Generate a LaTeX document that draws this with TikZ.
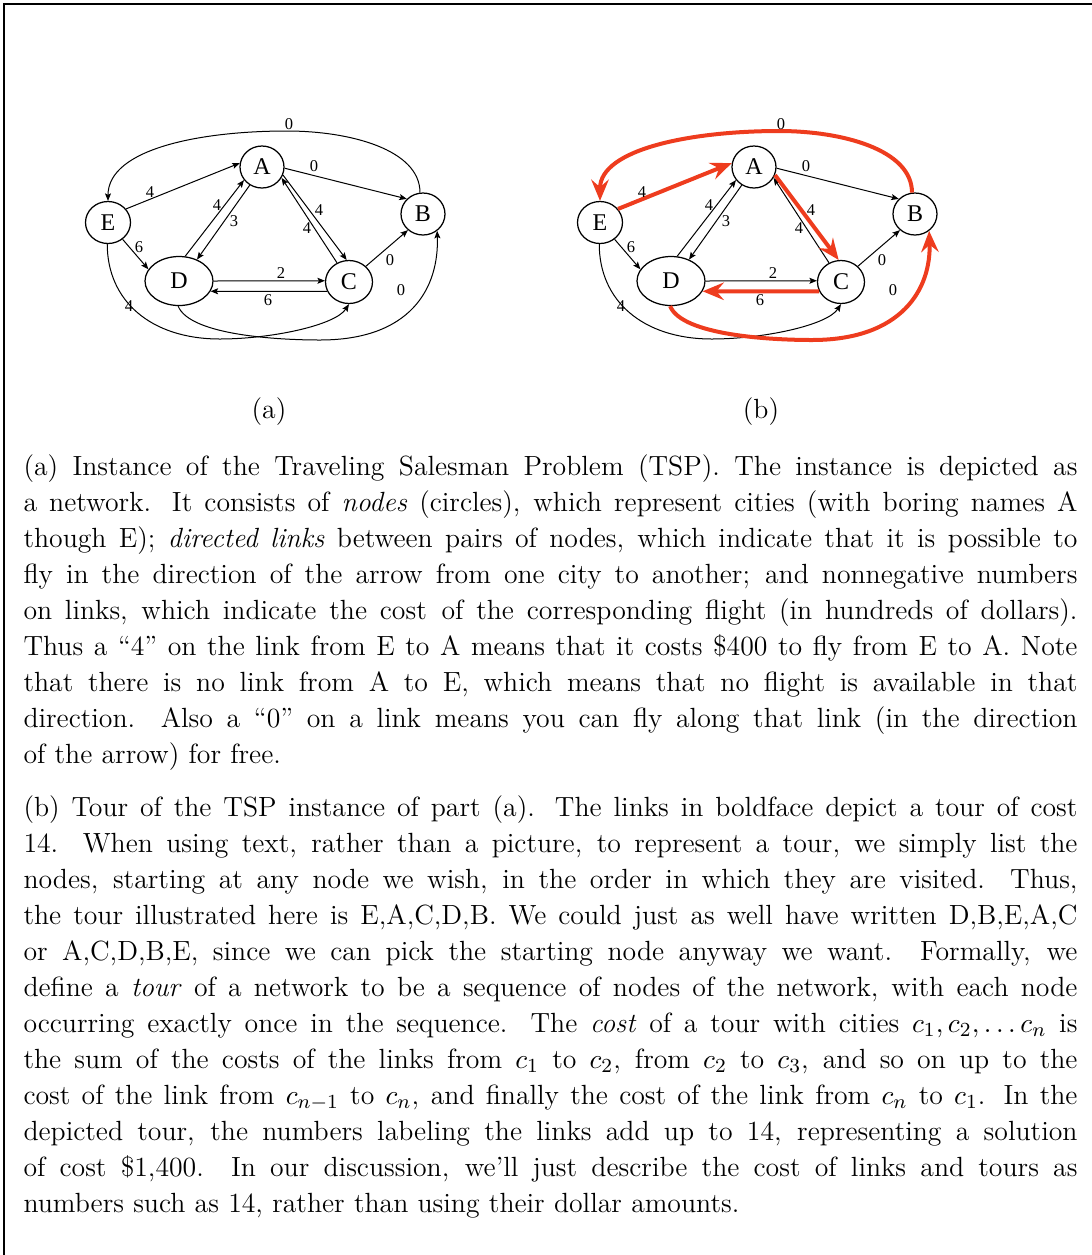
\documentclass[tikz,border=0pt]{standalone}
\usepackage{fontspec}
\newfontfamily\dfont{Liberation Serif}
\usetikzlibrary{arrows.meta,shapes.geometric}
\definecolor{tourred}{RGB}{238,60,30}
\newcommand{\parafont}{\fontsize{11.1}{14.4}\selectfont\spaceskip=.3333em plus .1667em minus .16em\relax}
\tikzset{
  city/.style={draw, ellipse, line width=0.5pt, inner sep=0pt, font=\dfont\fontsize{9.6}{10}\selectfont},
  lnk/.style={draw, line width=0.4pt, -{Stealth[length=3pt,width=2.4pt,inset=0.6pt]}},
  tour/.style={draw=tourred, line width=1.6pt, -{Stealth[length=8.5pt,width=7pt,inset=3pt]}},
  cost/.style={font=\dfont\fontsize{6.6}{7}\selectfont, inner sep=0pt},
  sub/.style={font=\fontsize{11.1}{13}\selectfont, inner sep=0pt},
  para/.style={anchor=north west, inner sep=0pt, text width=421.6pt, align=justify, font=\parafont},
}
\newcommand{\tspgraph}[2]{%
  \node[city, minimum width=17.6pt, minimum height=16.8pt] (#1A) at (262,167) {A};
  \node[city, minimum width=17.6pt, minimum height=16.8pt] (#1B) at (423,214) {B};
  \node[city, minimum width=18pt, minimum height=16.8pt] (#1E) at (108,222.5) {E};
  \node[city, minimum width=27.2pt, minimum height=19.6pt] (#1D) at (179,281) {D};
  \node[city, minimum width=18.8pt, minimum height=17.2pt] (#1C) at (349,282) {C};
  \coordinate (#1top) at (287,131);
  \coordinate (#1ec) at (220,339);
  \coordinate (#1db) at (320,340);
  % links not in the tour
  \draw[lnk] (#1A.-3) -- (#1B.137);
  \draw[lnk] (#1D.76) -- (#1A.216);
  \draw[lnk] (#1A.236) -- (#1D.50);
  \draw[lnk] (#1C.122) -- (#1A.-29);
  \draw[lnk] (#1C.43) -- (#1B.227);
  \draw[lnk] (#1D.0) -- (#1C.177);
  \draw[lnk] (#1E.-49) -- (#1D.159);
  \draw[lnk] (#1E.268) .. controls +(0,56) and +(-70,0) .. (#1ec)
                       .. controls +(50,0) and +(-14,21.5) .. (#1C.270);
  % links of the tour
  \draw[#2] (#1B.98) .. controls +(0,-43) and +(63,0) .. (#1top)
                     .. controls +(-87,0) and +(0,-52) .. (#1E.90);
  \draw[#2] (#1E.37) -- (#1A.170);
  \draw[#2] (#1A.-21) -- (#1C.96);
  \draw[#2] (#1C.203) -- (#1D.-18);
  \draw[#2] (#1D.268) .. controls +(12,29.5) and +(-40,0) .. (#1db)
                      .. controls +(90,0) and +(2,58) .. (#1B.-50);
  % costs
  \node[cost] (#1l1) at (289,124) {0};
  \node[cost] (#1l2) at (150,192) {4};
  \node[cost] (#1l3) at (314,166) {0};
  \node[cost] (#1l4) at (217,205) {4};
  \node[cost] (#1l5) at (234,221) {3};
  \node[cost] (#1l6) at (319,210) {4};
  \node[cost] (#1l7) at (307,228) {4};
  \node[cost] (#1l8) at (390,260) {0};
  \node[cost] (#1l9) at (281,273) {2};
  \node[cost] (#1l10) at (268,300) {6};
  \node[cost] (#1l11) at (139,247) {6};
  \node[cost] (#1l12) at (129,306) {4};
  \node[cost] (#1l13) at (401,290) {0};
}
\begin{document}
\begin{tikzpicture}[x=0.4pt,y=-0.4pt]
\useasboundingbox (0,0) rectangle (1092,1255);
\draw[line width=0.8pt] (3.7,1255) -- (3.7,3.7) -- (1092,3.7);

\begin{scope}
  \tspgraph{a}{lnk}
\end{scope}
\begin{scope}[shift={(492,0)}]
  \tspgraph{b}{tour}
\end{scope}

\node[sub] (capa) at (269,411.5) {(a)};
\node[sub] (capb) at (761,411.5) {(b)};

\node[para] (p1) at (23,450) {\noindent\strut (a) Instance of the Traveling Salesman Problem (TSP). The instance is depicted as\linebreak
a network. It consists of \emph{nodes} (circles), which represent cities (with boring names A\linebreak
though E); \emph{directed links} between pairs of nodes, which indicate that it is possible to\linebreak
fly in the direction of the arrow from one city to another; and nonnegative numbers\linebreak
on links, which indicate the cost\kern0.8pt{} of the corresponding flight (in hundreds of dollars).\linebreak
Thus a ``4'' on the link from E to A means that it costs \$400 to fly from E to A. Note\linebreak
that there is no link from A to E, which means that no flight is available in that\linebreak
direction. Also a ``0'' on a link means you can fly along that link (in the direction\linebreak
of the arrow) for free.};

\node[para] (p2) at (23,790.5) {\noindent\strut (b) Tour of the TSP instance of part (a). The links in boldface depict a tour of cost\linebreak
14. When using text, rather than a picture, to represent a tour, we simply list the\linebreak
nodes, starting at any node we wish, in the order in which they are visited. Thus,\linebreak
the tour illustrated here is E,A,C,D,B. We could just as well have written D,B,E,A,C\linebreak
or A,C,D,B,E, since we can pick the starting node anyway we want. Formally, we\linebreak
define a \emph{tour} of a network to be a sequence of nodes of the network, with each node\linebreak
occurring exactly once in the sequence. The \emph{cost} of a tour with cities $c_1,c_2,\ldots c_n$ is\linebreak
the sum of the costs of the links from $c_1$ to $c_2$, from $c_2$ to $c_3$, and so on up to the\linebreak
cost of the link from $c_{n-1}$ to $c_n$, and finally the cost of the link from $c_n$ to $c_1$. In the\linebreak
depicted tour, the numbers labeling the links add up to 14, representing a solution\linebreak
of cost \$1,400. In our discussion, we'll just describe the cost of links and tours as\linebreak
numbers such as 14, rather than using their dollar amounts.};
\end{tikzpicture}
\end{document}
